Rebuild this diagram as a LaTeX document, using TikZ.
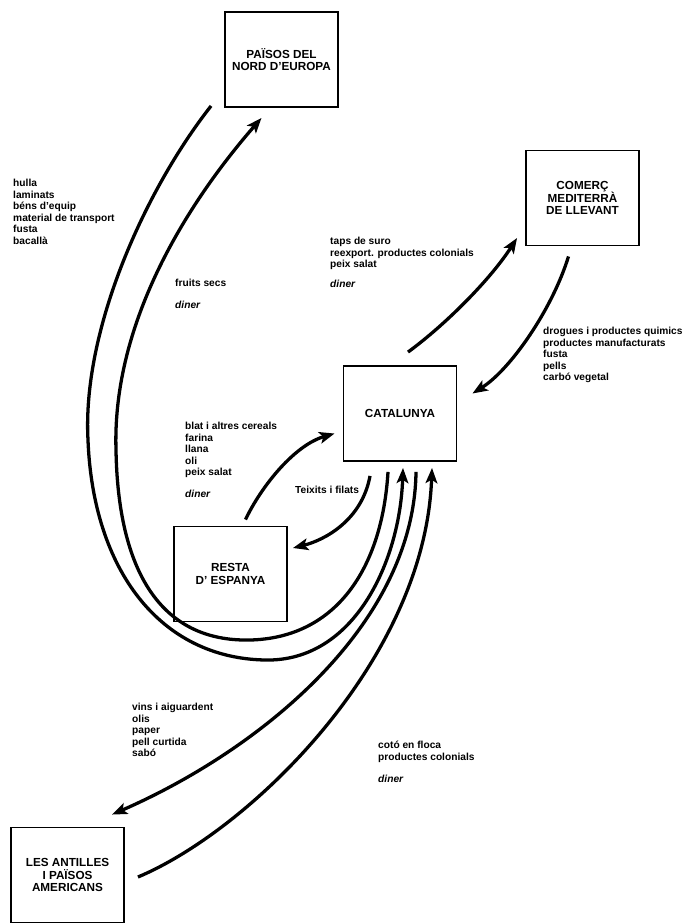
\documentclass[tikz,border=0pt]{standalone}
\usepackage{fontspec}
\setmainfont{Liberation Sans}
\usetikzlibrary{arrows.meta}
\tikzset{box/.style={draw,line width=1.6pt,minimum width=3.39cm,minimum height=2.85cm,align=center,font=\fontsize{10}{11}\selectfont\bfseries},
 lbl/.style={anchor=north west,inner sep=0pt,align=left,font=\fontsize{8.7}{9.8}\selectfont\bfseries},
 flow/.style={line width=2.8pt,-{Stealth[length=13pt,width=10pt,inset=3pt]}}}

\begin{document}
\begin{tikzpicture}[x=0.03cm,y=-0.03cm]
\useasboundingbox[fill=white] (0,0) rectangle (684,923);
\node[box] (nord) at (281.5,59.5) {PAÏSOS DEL\\NORD D'EUROPA};
\node[box] (comerc) at (582.5,198) {COMERÇ\\MEDITERRÀ\\DE LLEVANT};
\node[box] (cat) at (400,413.5) {CATALUNYA};
\node[box] (resta) at (230.5,574) {RESTA\\D' ESPANYA};
\node[box] (antilles) at (67.5,875) {LES ANTILLES\\I PAÏSOS\\AMERICANS};

\node[lbl] (lblnord) at (13,179) {hulla\\laminats\\béns d'equip\\material de transport\\fusta\\bacallà};
\node[lbl] (lblfruits) at (175,279) {fruits secs\\[9pt]\textit{diner}};
\node[lbl] (lbltaps) at (330,237) {taps de suro\\reexport. productes colonials\\peix salat\\[7pt]\textit{diner}};
\node[lbl] (lbldrogues) at (543,327) {drogues i productes quimics\\productes manufacturats\\fusta\\pells\\carbó vegetal};
\node[lbl] (lblblat) at (185,422) {blat i altres cereals\\farina\\llana\\oli\\peix salat\\[9pt]\textit{diner}};
\node[lbl] (lblteixits) at (295,486) {Teixits i filats};
\node[lbl] (lblvins) at (132,703) {vins i aiguardent\\olis\\paper\\pell curtida\\sabó};
\node[lbl] (lblcoto) at (378,741) {cotó en floca\\productes colonials\\[9pt]\textit{diner}};

\draw[flow] ([shift={(-13,-2)}]nord.south west) .. controls (145,190) and (82,330) .. (88,440)
 .. controls (93,570) and (160,658) .. (265,660) .. controls (355,662) and (400,560) .. ([shift={(3,6)}]cat.south);
\draw[flow] ([shift={(-12,10)}]cat.south) .. controls (382,570) and (335,638) .. (250,640)
 .. controls (160,642) and (118,570) .. (116,450) .. controls (112,320) and (190,200) .. ([shift={(-20,10)}]nord.south);
\draw[flow] ([shift={(16,10)}]cat.south) .. controls (414,625) and (260,750) .. ([shift={(-13,-12)}]antilles.north east);
\draw[flow] ([shift={(13,2)}]antilles.east) .. controls (250,830) and (425,660) .. ([shift={(32,6)}]cat.south);
\draw[flow] ([shift={(15,-6)}]resta.north) .. controls (262,485) and (295,445) .. ([shift={(-8,20)}]cat.west);
\draw[flow] ([shift={(-30,14)}]cat.south) .. controls (362,520) and (325,540) .. ([shift={(5,-26)}]resta.east);
\draw[flow] ([shift={(8,-13)}]cat.north) .. controls (445,325) and (490,280) .. ([shift={(-8,40)}]comerc.west);
\draw[flow] ([shift={(-14,10)}]comerc.south) .. controls (552,310) and (510,370) .. ([shift={(15,-20)}]cat.east);
\end{tikzpicture}
\end{document}
